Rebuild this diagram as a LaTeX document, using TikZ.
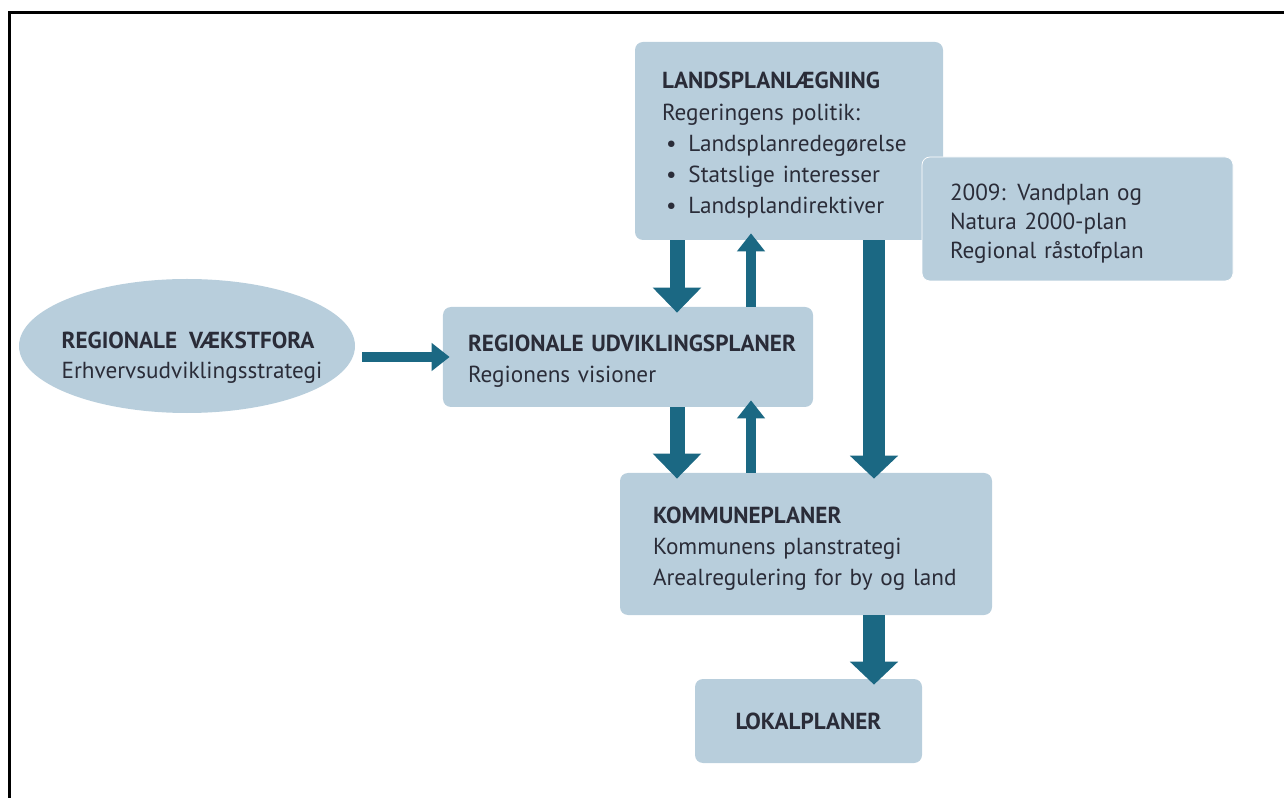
\documentclass[tikz,border=0pt]{standalone}
\usepackage{fontspec}
\setmainfont{PT Sans}
\usepackage{tikz}
\usetikzlibrary{shapes.geometric, arrows.meta}

\definecolor{boksblaa}{RGB}{184,206,220}
\definecolor{pilblaa}{RGB}{27,104,131}
\definecolor{tekstgraa}{RGB}{42,44,56}

\begin{document}
\begin{tikzpicture}[x=0.2mm, y=-0.2mm,
        boks/.style={rectangle, rounded corners=1.6mm, fill=boksblaa, text=tekstgraa, align=left, inner ysep=0pt, font=\fontsize{13.2}{17.8}\selectfont},
        lavtekst/.style={execute at begin node={\rule{0pt}{14.5pt}}},
        tykpil/.style={draw=pilblaa, line width=4.4mm, shorten >=-1.2mm, -{Triangle[width=9.4mm, length=4.6mm]}},
        midpil/.style={draw=pilblaa, line width=3mm, shorten >=-1.2mm, -{Triangle[width=9.4mm, length=5mm]}},
        tyndpil/.style={draw=pilblaa, line width=2mm, shorten >=-1.4mm, -{Triangle[width=5.4mm, length=3.6mm]}}]
        \useasboundingbox (0,0) rectangle (1284,798);
        \draw[line width=0.6mm] (9,798) -- (9,13) -- (1284,13);
        % kasserne
        \node[boks, lavtekst, minimum height=39.6mm, text width=50.8mm, inner xsep=5.4mm] (land) at (789,141)
            {\textbf{LANDSPLANLÆGNING}\\Regeringens politik:\\
             \hspace*{0.8mm}•\hspace{2.4mm}Landsplanredegørelse\\
             \hspace*{0.8mm}•\hspace{2.4mm}Statslige interesser\\
             \hspace*{0.8mm}•\hspace{2.4mm}Landsplandirektiver};
        \node[boks, lavtekst, draw=white, line width=0.4pt, minimum height=24.8mm, text width=51mm, inner xsep=5.6mm, font=\fontsize{13.2}{16.5}\selectfont] (vand) at (1077.5,219)
            {2009: Vandplan og\\Natura 2000-plan\\Regional råstofplan};
        \node[boks, lavtekst, minimum height=20mm, text width=64mm, inner xsep=5mm] (rup) at (628,357)
            {\mbox{\textbf{REGIONALE UDVIKLINGSPLANER}}\\Regionens visioner};
        \node[boks, ellipse, inner sep=0pt, minimum width=67.2mm, minimum height=26.8mm] (vf) at (187,346) {};
        \node[boks, fill=none, font=\fontsize{13.2}{17}\selectfont] (vftekst) at (192,358)
            {\textbf{REGIONALE\ \ VÆKSTFORA}\\Erhvervsudviklingsstrategi};
        \node[boks, lavtekst, minimum height=28.4mm, text width=61.2mm, inner xsep=6.6mm] (kom) at (806,544)
            {\textbf{KOMMUNEPLANER}\\Kommunens planstrategi\\Arealregulering for by og land};
        \node[boks, align=center, minimum width=45.4mm, minimum height=16.8mm] (lok) at (808.5,721)
            {\textbf{LOKALPLANER}};
        % pilene
        \coordinate (kolA) at (677,0);
        \coordinate (kolB) at (751,0);
        \coordinate (kolC) at (874,0);
        \draw[tyndpil, shorten <=1.4mm] (vf.east |- rup.west) -- (rup.west);
        \draw[midpil] (land.south -| kolA) -- (rup.north -| kolA);
        \draw[tyndpil] (rup.north -| kolB) -- (land.south -| kolB);
        \draw[midpil] (rup.south -| kolA) -- (kom.north -| kolA);
        \draw[tyndpil] (kom.north -| kolB) -- (rup.south -| kolB);
        \draw[tykpil] (land.south -| kolC) -- (kom.north -| kolC);
        \draw[tykpil] (kom.south -| kolC) -- (lok.north -| kolC);
\end{tikzpicture}
\end{document}
